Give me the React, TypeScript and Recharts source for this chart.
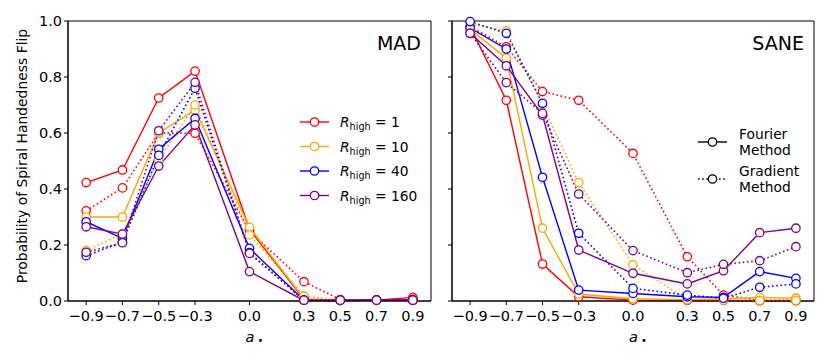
import { LineChart, Line, XAxis, YAxis, ReferenceArea, Label, Legend } from "recharts";

const FONT = "'DejaVu Sans', sans-serif";

const spins = [-0.9, -0.7, -0.5, -0.3, 0.0, 0.3, 0.5, 0.7, 0.9];
const xTicks = [-0.9, -0.7, -0.5, -0.3, 0.0, 0.3, 0.5, 0.7, 0.9];
const yTicks = [0, 0.2, 0.4, 0.6, 0.8, 1.0];

// MAD panel
const madR1Fourier = [0.423, 0.468, 0.725, 0.821, 0.256, 0.005, 0.003, 0.003, 0.013];
const madR1Gradient = [0.322, 0.404, 0.600, 0.599, 0.250, 0.069, 0.005, 0.002, 0.006];
const madR10Fourier = [0.300, 0.300, 0.600, 0.682, 0.263, 0.008, 0.002, 0.002, 0.003];
const madR10Gradient = [0.180, 0.240, 0.504, 0.700, 0.236, 0.018, 0.003, 0.002, 0.002];
const madR40Fourier = [0.283, 0.224, 0.542, 0.652, 0.188, 0.003, 0.002, 0.004, 0.003];
const madR40Gradient = [0.162, 0.210, 0.520, 0.760, 0.173, 0.003, 0.002, 0.003, 0.002];
const madR160Fourier = [0.265, 0.239, 0.482, 0.629, 0.105, 0.002, 0.002, 0.003, 0.004];
const madR160Gradient = [0.174, 0.208, 0.608, 0.781, 0.170, 0.003, 0.003, 0.003, 0.003];

// SANE panel
const saneR1Fourier = [0.980, 0.717, 0.132, 0.015, 0.003, 0.002, 0.002, 0.001, 0.001];
const saneR1Gradient = [0.980, 0.908, 0.748, 0.717, 0.527, 0.158, 0.021, 0.003, 0.002];
const saneR10Fourier = [0.970, 0.867, 0.260, 0.025, 0.008, 0.005, 0.008, 0.013, 0.010];
const saneR10Gradient = [0.990, 0.965, 0.700, 0.423, 0.129, 0.005, 0.003, 0.002, 0.002];
const saneR40Fourier = [0.975, 0.900, 0.442, 0.039, 0.027, 0.015, 0.013, 0.105, 0.081];
const saneR40Gradient = [0.998, 0.956, 0.706, 0.242, 0.045, 0.021, 0.010, 0.049, 0.061];
const saneR160Fourier = [0.956, 0.840, 0.664, 0.182, 0.099, 0.061, 0.108, 0.244, 0.260];
const saneR160Gradient = [0.956, 0.780, 0.670, 0.382, 0.180, 0.101, 0.131, 0.144, 0.194];

const rHigh = ["1", "10", "40", "160"];
const colors = ["#ff0000", "#ffa500", "#0000ff", "#800080"];

const madRows = spins.map((a, i) => ({
  a,
  f0: madR1Fourier[i], g0: madR1Gradient[i],
  f1: madR10Fourier[i], g1: madR10Gradient[i],
  f2: madR40Fourier[i], g2: madR40Gradient[i],
  f3: madR160Fourier[i], g3: madR160Gradient[i],
}));

const saneRows = spins.map((a, i) => ({
  a,
  f0: saneR1Fourier[i], g0: saneR1Gradient[i],
  f1: saneR10Fourier[i], g1: saneR10Gradient[i],
  f2: saneR40Fourier[i], g2: saneR40Gradient[i],
  f3: saneR160Fourier[i], g3: saneR160Gradient[i],
}));

const fmt = (v: number) => (v < 0 ? "\u2212" + Math.abs(v).toFixed(1) : v.toFixed(1));

function renderLines() {
  const out: any[] = [];
  colors.forEach((c, i) => {
    out.push(
      <Line key={"f" + i} dataKey={"f" + i} stroke={c} strokeWidth={1.4}
        dot={{ r: 4.2, fill: "#fff", stroke: c, strokeWidth: 1.3, strokeDasharray: "none" }}
        isAnimationActive={false} />
    );
    out.push(
      <Line key={"g" + i} dataKey={"g" + i} stroke={c} strokeWidth={1.6} strokeDasharray="1.6 2.6"
        dot={{ r: 4.2, fill: "#fff", stroke: c, strokeWidth: 1.3, strokeDasharray: "none" }}
        isAnimationActive={false} />
    );
  });
  return out;
}

const XTitle = ({ viewBox }: any) => (
  <text x={viewBox.x + viewBox.width / 2 - 4} y={viewBox.y + 41} textAnchor="start"
    fontFamily={FONT} fontSize={14.5} fill="#000">
    <tspan fontStyle="italic">a</tspan>
    <tspan fontSize={10} dx={3} dy={1.5}>•</tspan>
  </text>
);

const PanelTitle = (name: string) => ({ viewBox }: any) => (
  <text x={viewBox.x + viewBox.width - 10} y={viewBox.y + 29} textAnchor="end"
    fontFamily={FONT} fontSize={19} fill="#000">{name}</text>
);

const RLegend = () => (
  <svg width={135} height={100} style={{ display: "block" }}>
    {colors.map((c, i) => {
      const y = 14 + i * 24.5;
      return (
        <g key={c}>
          <line x1={5} x2={34} y1={y} y2={y} stroke={c} strokeWidth={1.4} />
          <circle cx={19.5} cy={y} r={4.2} fill="#fff" stroke={c} strokeWidth={1.3} />
          <text x={45} y={y + 5} fontFamily={FONT} fontSize={13.8} fill="#000">
            <tspan fontStyle="italic">R</tspan>
            <tspan fontSize={9.7} dy={3}>high</tspan>
            <tspan dy={-3}>{" = " + rHigh[i]}</tspan>
          </text>
        </g>
      );
    })}
  </svg>
);

const MethodLegend = () => (
  <svg width={125} height={80} style={{ display: "block" }}>
    <line x1={5} x2={34} y1={22} y2={22} stroke="#000" strokeWidth={1.4} />
    <circle cx={19.5} cy={22} r={4.2} fill="#fff" stroke="#000" strokeWidth={1.3} />
    <text fontFamily={FONT} fontSize={13.8} fill="#000">
      <tspan x={46} y={19}>Fourier</tspan>
      <tspan x={46} y={35}>Method</tspan>
    </text>
    <line x1={5} x2={34} y1={59} y2={59} stroke="#000" strokeWidth={1.6} strokeDasharray="1.6 2.6" />
    <circle cx={19.5} cy={59} r={4.2} fill="#fff" stroke="#000" strokeWidth={1.3} />
    <text fontFamily={FONT} fontSize={13.8} fill="#000">
      <tspan x={46} y={56}>Gradient</tspan>
      <tspan x={46} y={72}>Method</tspan>
    </text>
  </svg>
);

const tickStyle = { fill: "#000", fontSize: 14.5, fontFamily: FONT };

export default function App() {
  return (
    <div style={{ position: "absolute", left: 0, top: 0, width: 830, height: 363, background: "#fff" }}>
      <div style={{ position: "absolute", left: 0, top: 0 }}>
        <LineChart width={440} height={363} data={madRows}
          margin={{ top: 21, right: 9, bottom: 22, left: 8 }}>
          <XAxis type="number" dataKey="a" domain={[-1, 1]} ticks={xTicks} tickFormatter={fmt}
            stroke="#000" tickSize={4} tickMargin={6} height={40} tick={tickStyle} interval={0}>
            <Label content={XTitle} />
          </XAxis>
          <YAxis type="number" domain={[0, 1]} ticks={yTicks} tickFormatter={(v: number) => v.toFixed(1)}
            stroke="#000" tickSize={4} tickMargin={2} width={60} tick={tickStyle} interval={0}>
            <Label content={() => (
              <text x={22} y={156} textAnchor="middle" dominantBaseline="central"
                transform="rotate(-90, 22, 156)"
                fontFamily={FONT} fontSize={13.9} fill="#000">
                Probability of Spiral Handedness Flip
              </text>
            )} />
          </YAxis>
          <ReferenceArea x1={-1} x2={1} y1={0} y2={1} fill="none" stroke="#000" strokeWidth={1}>
            <Label content={PanelTitle("MAD")} />
          </ReferenceArea>
          {renderLines()}
          <Legend layout="vertical" align="center" verticalAlign="middle" content={RLegend}
            wrapperStyle={{ left: 295, top: 108, width: 135, height: 100 }} />
        </LineChart>
      </div>
      <div style={{ position: "absolute", left: 440, top: 0 }}>
        <LineChart width={390} height={363} data={saneRows}
          margin={{ top: 21, right: 16, bottom: 22, left: 0 }}>
          <XAxis type="number" dataKey="a" domain={[-1, 1]} ticks={xTicks} tickFormatter={fmt}
            stroke="#000" tickSize={4} tickMargin={6} height={40} tick={tickStyle} interval={0}>
            <Label content={XTitle} />
          </XAxis>
          <YAxis type="number" domain={[0, 1]} ticks={yTicks} tickFormatter={() => ""}
            stroke="#000" tickSize={4} width={12} tick={tickStyle} interval={0} />
          <ReferenceArea x1={-1} x2={1} y1={0} y2={1} fill="none" stroke="#000" strokeWidth={1}>
            <Label content={PanelTitle("SANE")} />
          </ReferenceArea>
          {renderLines()}
          <Legend layout="vertical" align="center" verticalAlign="middle" content={MethodLegend}
            wrapperStyle={{ left: 253, top: 120, width: 125, height: 80 }} />
        </LineChart>
      </div>
    </div>
  );
}
